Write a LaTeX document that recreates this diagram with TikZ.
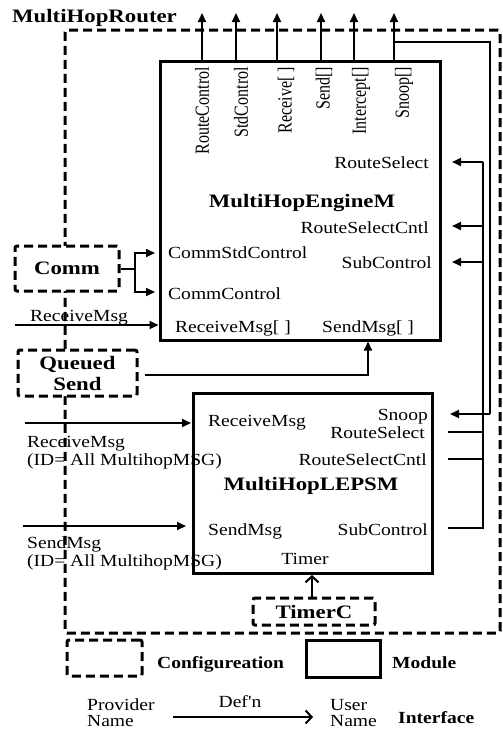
\documentclass[tikz,border=0pt]{standalone}
\usepackage{fontspec}
\setmainfont{Liberation Serif}
\newfontfamily\nf{Liberation Serif}[FakeStretch=1.15]
\newfontfamily\bnf{Liberation Serif}[FakeStretch=1.2]
\newfontfamily\rnf{Liberation Serif}[FakeStretch=0.8]
\usetikzlibrary{arrows.meta}
\begin{document}
\begin{tikzpicture}[x=1pt,y=-1pt,
 txt/.style={inner sep=0pt, font=\nf\fontsize{17}{19}\selectfont},
 btxt/.style={inner sep=0pt, font=\bnf\bfseries\fontsize{19}{21}\selectfont},
 ltxt/.style={inner sep=0pt, font=\nf\bfseries\fontsize{17}{19}\selectfont},
 rtxt/.style={inner sep=0pt, rotate=90, anchor=east, font=\rnf\fontsize{20}{22}\selectfont},
 module/.style={draw, line width=3pt, inner sep=0pt, fill=white},
 config/.style={draw, line width=3pt, dash pattern=on 9pt off 5pt, rounded corners=2pt, inner sep=0pt, fill=white, align=center, font=\bnf\bfseries\fontsize{19}{21}\selectfont},
 conn/.style={line width=2pt},
 arr/.style={conn, -{Triangle[length=9pt,width=8pt]}},
 oarr/.style={conn, -{Straight Barb[length=6pt,width=13pt]}},
]
\useasboundingbox (0,0) rectangle (503,731);

% outer configuration
\node[config, fill=none, minimum width=435pt, minimum height=603pt] (router) at (282.5,331.5) {};
\node[btxt, anchor=base west] (title) at (12,22) {MultiHopRouter};

% modules
\node[module, minimum width=280pt, minimum height=279pt] (eng) at (300,200.5) {};
\node[module, minimum width=239pt, minimum height=180pt] (lep) at (312.5,483) {};

% sub-configurations
\node[config, minimum width=104pt, minimum height=45pt] (comm) at (67,268.5) {Comm};
\node[config, minimum width=119pt, minimum height=46pt] (qs) at (77.5,373) {Queued\\Send};
\node[config, minimum width=122pt, minimum height=27pt] (timerc) at (314,611.5) {TimerC};

% EngineM labels
\node[rtxt] (l1) at (202,67) {RouteControl};
\node[rtxt] (l2) at (241,67) {StdControl};
\node[rtxt] (l3) at (286,67) {Receive[ ]};
\node[rtxt] (l4) at (324,67) {Send[]};
\node[rtxt] (l5) at (361,67) {Intercept[]};
\node[rtxt] (l6) at (404,67) {Snoop[]};
\node[txt, anchor=base east] (eRS) at (429,168) {RouteSelect};
\node[btxt, anchor=base] (engname) at (302,207) {MultiHopEngineM};
\node[txt, anchor=base east] (eRSC) at (429,233) {RouteSelectCntl};
\node[txt, anchor=base west] (eCSC) at (168,258) {CommStdControl};
\node[txt, anchor=base east] (eSC) at (432,268) {SubControl};
\node[txt, anchor=base west] (eCC) at (168,299) {CommControl};
\node[txt, anchor=base west] (eRM) at (175,332) {ReceiveMsg[ ]};
\node[txt, anchor=base west] (eSM) at (322,332) {SendMsg[ ]};

% LEPSM labels
\node[txt, anchor=base west] (lRM) at (208,426) {ReceiveMsg};
\node[txt, anchor=base east] (lSn) at (428,420) {Snoop};
\node[txt, anchor=base east] (lRS) at (425,438) {RouteSelect};
\node[txt, anchor=base east] (lRSC) at (427,465) {RouteSelectCntl};
\node[btxt, anchor=base] (lepname) at (311,490) {MultiHopLEPSM};
\node[txt, anchor=base west] (lSM) at (208,535) {SendMsg};
\node[txt, anchor=base east] (lSC) at (428,535) {SubControl};
\node[txt, anchor=base] (lT) at (305,564) {Timer};

% left side labels
\node[txt, anchor=base west] (rmlab) at (30,321) {ReceiveMsg};
\node[txt, anchor=base west] (rm2a) at (27,447) {ReceiveMsg};
\node[txt, anchor=base west] (rm2b) at (27,465) {(ID= All MultihopMSG)};
\node[txt, anchor=base west] (sm2a) at (27,548) {SendMsg};
\node[txt, anchor=base west] (sm2b) at (27,566) {(ID= All MultihopMSG)};

% top arrows
\foreach \i/\x in {1/202,2/236,3/277,4/321,5/354,6/394}{
  \coordinate (t\i) at (\x,13);
  \draw[arr] (eng.north -| t\i) -- (t\i);
}
% snoop loop
\coordinate (sA) at (394,42);
\coordinate (sB) at (490,42);
\coordinate (sC) at (490,414);
\coordinate (sD) at (450,414);
\draw[conn] (sA) -- (sB) -- (sC);
\draw[arr] (sC) -- (sD);

% inner bus
\coordinate (bTop) at (483,162);
\coordinate (bBot) at (483,528);
\draw[conn] (448,528) -- (bBot) -- (bTop);
\draw[arr] (bTop) -- (452,162);
\draw[arr] (483,226) -- (452,226);
\draw[arr] (483,262) -- (452,262);
\draw[conn] (448,432) -- (483,432);
\draw[conn] (448,459) -- (483,459);

% comm fork
\coordinate (cf) at (135,268.5);
\draw[conn] (comm.east) -- (cf);
\draw[arr] (cf) |- (155,253);
\draw[arr] (cf) |- (155,292);

% receive msg into engine
\coordinate (rin) at (15,325);
\draw[arr] (rin) -- (158.5,325);

% queued send to engine
\coordinate (qsOut) at (145,375);
\draw[arr] (qsOut) -| (368,341.5);

% LEPSM inputs
\coordinate (in1) at (25,423);
\coordinate (in2) at (23,526);
\draw[arr] (in1) -- (191,423);
\draw[arr] (in2) -- (186,526);

% timer
\draw[oarr] (312,598) -- (312,575);

% legend
\node[config, minimum width=75pt, minimum height=36pt] (legcfg) at (104.5,658) {};
\node[ltxt, anchor=base west] (legcfgt) at (157,668) {Configureation};
\node[module, minimum width=74pt, minimum height=37pt] (legmod) at (343,658.5) {};
\node[ltxt, anchor=base west] (legmodt) at (392,668) {Module};
\node[txt, anchor=base west] (prov1) at (87,710) {Provider};
\node[txt, anchor=base west] (prov2) at (87,726) {Name};
\node[txt, anchor=base west] (user1) at (330,710) {User};
\node[txt, anchor=base west] (user2) at (330,726) {Name};
\coordinate (ia) at (173,717);
\coordinate (ib) at (313,717);
\draw[oarr] (ia) -- (ib);
\node[txt, anchor=base] (defn) at (240,707) {Def'n};
\node[ltxt, anchor=base west] (intf) at (398,723) {Interface};
\end{tikzpicture}
\end{document}
